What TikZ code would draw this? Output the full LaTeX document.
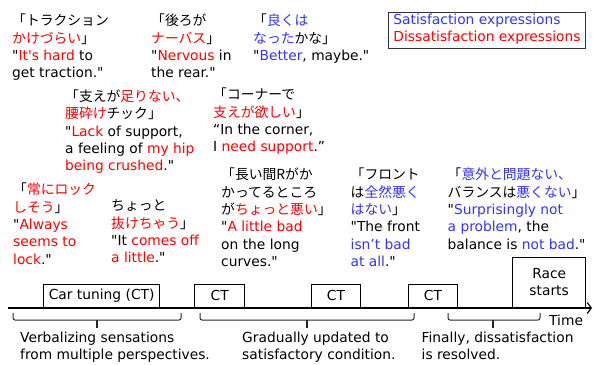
\documentclass[tikz,border=0pt]{standalone}
\usepackage{fontspec}
\usetikzlibrary{arrows.meta}
\newfontfamily\lat{DejaVu Sans}
\newfontfamily\jpf[Scale=1.0]{Noto Sans CJK JP}
\definecolor{sat}{RGB}{51,51,255}
\definecolor{dis}{RGB}{255,0,0}
\newcommand\ja[1]{{\jpf #1}}
\newcommand\jaR[1]{{\jpf\color{dis}#1}}
\newcommand\jaB[1]{{\jpf\color{sat}#1}}
\newcommand\tR[1]{{\color{dis}#1}}
\newcommand\tB[1]{{\color{sat}#1}}
\begin{document}
\begin{tikzpicture}[x=1pt,y=-1pt,
  every node/.style={font=\lat\fontsize{13.8}{17.3}\selectfont, inner sep=0pt},
  quote/.style={anchor=north west, align=left, execute at begin node=\strut},
  tbox/.style={draw, line width=1.3pt, anchor=south west, fill=white},
  brace/.style={draw=black!85, line width=1pt, rounded corners=2pt},
  btick/.style={draw=black!85, line width=1.6pt},
  timeline/.style={line width=1.8pt, -{Straight Barb[length=4pt,width=11pt,line width=1.2pt]}}]
\useasboundingbox (0,0) rectangle (593,364);

% legend
\node[draw=black!80, line width=0.9pt, anchor=north west, align=left,
      inner xsep=5pt, inner ysep=1.5pt, execute at begin node=\strut] (legend) at (388,11.7)
  {\tB{Satisfaction expressions}\\\tR{Dissatisfaction expressions}};

% quotes
\node[quote] (q1) at (12,13.9)
  {\ja{「トラクション}\\\jaR{かけづらい}\ja{」}\\"\tR{It's hard} to\\get traction."};
\node[quote] (q2) at (151,13.9)
  {\ja{「後ろが}\\\jaR{ナーバス}\ja{」}\\"\tR{Nervous} in\\the rear."};
\node[quote] (q3) at (253,13.9)
  {\ja{「}\jaB{良くは}\\\jaB{なった}\ja{かな」}\\"\tB{Better}, maybe."};
\node[quote] (q4) at (65,89.6)
  {\ja{「支えが}\jaR{足りない、}\\\jaR{腰砕け}\ja{チック」}\\"\tR{Lack} of support,\\a feeling of \tR{my hip}\\\tR{being crushed}."};
\node[quote] (q5) at (213,88)
  {\ja{「コーナーで}\\\jaR{支えが欲しい}\ja{」}\\“In the corner,\\I \tR{need support}.”};
\node[quote] (q6) at (13,183)
  {\ja{「}\jaR{常にロック}\\\jaR{しそう}\ja{」}\\"\tR{Always}\\\tR{seems to}\\\tR{lock}."};
\node[quote] (q7) at (111,199.7)
  {\ja{ちょっと}\\\jaR{抜けちゃう}\ja{」}\\"It \tR{comes off}\\\tR{a little}."};
\node[quote] (q8) at (221,168)
  {\ja{「長い間Rがか}\\\ja{かってるところ}\\\ja{が}\jaR{ちょっと悪い}\ja{」}\\"\tR{A little bad}\\on the long\\curves."};
\node[quote] (q9) at (350.5,168)
  {\ja{「フロント}\\\ja{は}\jaB{全然悪く}\\\jaB{はない}\ja{」}\\"The front\\\tB{isn’t bad}\\\tB{at all}."};
\node[quote] (q10) at (447.5,168)
  {\ja{「}\jaB{意外と問題ない、}\\\ja{バランスは}\jaB{悪くない}\ja{」}\\"\tB{Surprisingly not}\\\tB{a problem}, the\\balance is \tB{not bad}."};

% timeline boxes
\node[tbox, minimum width=116pt, minimum height=23pt] (ct0) at (43,308) {Car tuning (CT)};
\node[tbox, minimum width=50pt, minimum height=23pt] (ct1) at (194,308) {CT};
\node[tbox, minimum width=49.5pt, minimum height=23pt] (ct2) at (310.5,308) {CT};
\node[tbox, minimum width=49.5pt, minimum height=23pt] (ct3) at (407.5,308) {CT};
\node[tbox, minimum width=73pt, minimum height=50pt, align=center] (race) at (512,308) {Race\\starts};

\coordinate (t0) at (8,308);
\coordinate (t1) at (592,308);
\draw[timeline] (t0) -- (t1);
\node[anchor=base west] (time) at (549,325) {Time};

% braces
\draw[brace] (13,313) -- (13,320) -- (181,320) -- (181,313);
\draw[btick] (97,320) -- (97,328);
\draw[brace] (200,313) -- (200,320) -- (414,320) -- (414,313);
\draw[btick] (307,320) -- (307,328);
\draw[brace] (448,313) -- (448,320) -- (540,320) -- (540,313);
\draw[btick] (493,320) -- (493,328);

% explanations
\node[quote] (e1) at (20,331.4) {Verbalizing sensations\\from multiple perspectives.};
\node[quote] (e2) at (242,331.4) {Gradually updated to\\satisfactory condition.};
\node[quote] (e3) at (421.5,331.4) {Finally, dissatisfaction\\is resolved.};
\end{tikzpicture}
\end{document}
